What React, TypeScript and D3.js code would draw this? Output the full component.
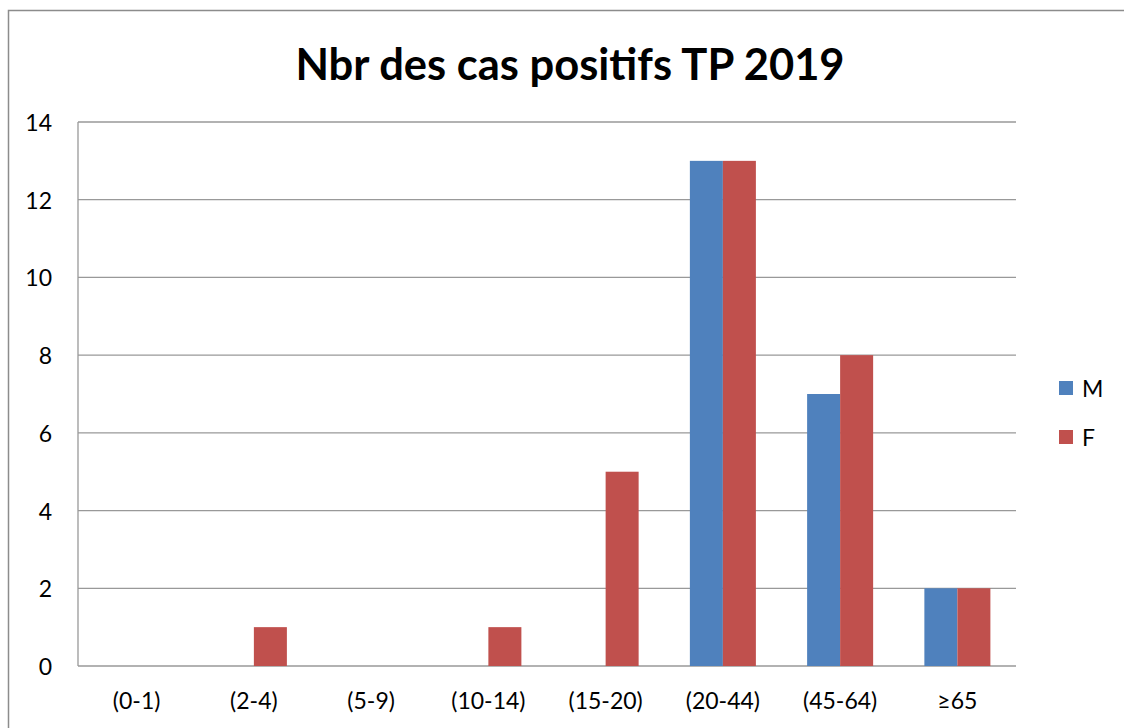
import * as React from 'react'
import * as d3 from 'd3'

const categories = ['(0-1)', '(2-4)', '(5-9)', '(10-14)', '(15-20)', '(20-44)', '(45-64)', '≥65']
const seriesNames = ['M', 'F']
const valuesM = [0, 0, 0, 0, 0, 13, 7, 2]
const valuesF = [0, 1, 0, 1, 5, 13, 8, 2]
const yTicks = [0, 2, 4, 6, 8, 10, 12, 14]
const colors = ['#4F81BD', '#C0504D']

export default function App() {
    const W = 1124
    const H = 728
    const left = 78
    const right = 1016
    const top = 122
    const bottom = 666
    const FONT = 'Lato, "Open Sans", sans-serif'

    const x = d3.scaleBand().domain(categories).range([left, right]).paddingInner(0.437).paddingOuter(0.2185)
    const x1 = d3.scaleBand().domain(seriesNames).range([0, x.bandwidth()])
    const y = d3.scaleLinear().domain([0, 14]).range([bottom, top])

    const series = [valuesM, valuesF]

    return <svg width={W} height={H} style={{ position: 'absolute', left: 0, top: 0 }}>
        <rect x={0} y={0} width={W} height={H} fill="#fff" />
        <rect x={8.5} y={10.5} width={W + 20} height={H + 20} fill="none" stroke="#8c8c8c" strokeWidth={1.5} />
        <text x={570} y={80} textAnchor="middle" fontFamily={FONT} fontWeight="bold" fontSize={43.5}>Nbr des cas positifs TP 2019</text>

        {yTicks.map(t =>
            <g key={t}>
                <line x1={left} x2={right} y1={y(t)} y2={y(t)} stroke="#999" strokeWidth={1.3} />
                <text x={52} y={y(t)} textAnchor="end" dominantBaseline="central" fontFamily={FONT} fontSize={23}>{t}</text>
            </g>
        )}
        <line x1={left} x2={left} y1={top} y2={bottom} stroke="#999" strokeWidth={1.3} />

        {categories.map((c, i) =>
            <g key={c} transform={`translate(${x(c)} 0)`}>
                {seriesNames.map((s, j) => series[j][i] > 0 &&
                    <rect key={s} x={x1(s)} width={x1.bandwidth()} y={y(series[j][i])} height={y(0) - y(series[j][i])} fill={colors[j]} />
                )}
            </g>
        )}
        {categories.map(c =>
            <text key={c} x={(x(c) as number) + x.bandwidth() / 2} y={700} textAnchor="middle" dominantBaseline="central" fontFamily={FONT} fontSize={23}>{c}</text>
        )}

        {seriesNames.map((s, j) =>
            <g key={s} transform={`translate(1059 ${381 + j * 49})`}>
                <rect width={14} height={14} fill={colors[j]} />
                <text x={23} y={7} dominantBaseline="central" fontFamily={FONT} fontSize={23}>{s}</text>
            </g>
        )}
    </svg>
}
